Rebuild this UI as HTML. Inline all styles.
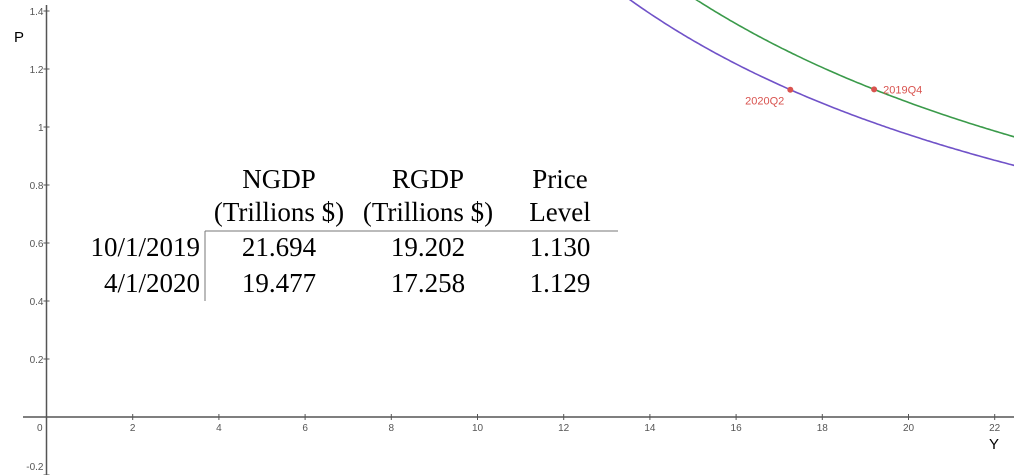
<!DOCTYPE html>
<html><head><meta charset="utf-8"><style>
body{margin:0;background:#fff;}
svg{display:block;}
.tk{font:10px "Liberation Sans",sans-serif;fill:#555;}
.tb{font:27px "Liberation Serif",serif;fill:#000;}
.pl{font:11px "Liberation Sans",sans-serif;fill:#d9534f;}
</style></head><body>
<svg id="c" width="1022" height="475" xmlns="http://www.w3.org/2000/svg">
<defs><clipPath id="cp"><rect x="0" y="0" width="1014" height="475"/></clipPath></defs>
<g id="axes"></g><g id="curves" clip-path="url(#cp)"></g><g id="pts"></g>
<g>
<line x1="205" y1="231" x2="618" y2="231" stroke="#777" stroke-width="1"/>
<line x1="205" y1="231" x2="205" y2="301" stroke="#777" stroke-width="1"/>
<text class="tb" x="279" y="188" text-anchor="middle">NGDP</text>
<text class="tb" x="279" y="221" text-anchor="middle">(Trillions $)</text>
<text class="tb" x="428" y="188" text-anchor="middle">RGDP</text>
<text class="tb" x="428" y="221" text-anchor="middle">(Trillions $)</text>
<text class="tb" x="560" y="188" text-anchor="middle">Price</text>
<text class="tb" x="560" y="221" text-anchor="middle">Level</text>
<text class="tb" x="200" y="256" text-anchor="end">10/1/2019</text>
<text class="tb" x="200" y="292" text-anchor="end">4/1/2020</text>
<text class="tb" x="279" y="256" text-anchor="middle">21.694</text>
<text class="tb" x="279" y="292" text-anchor="middle">19.477</text>
<text class="tb" x="428" y="256" text-anchor="middle">19.202</text>
<text class="tb" x="428" y="292" text-anchor="middle">17.258</text>
<text class="tb" x="560" y="256" text-anchor="middle">1.130</text>
<text class="tb" x="560" y="292" text-anchor="middle">1.129</text>
</g>
</svg>
<script>
const xTicks=[2,4,6,8,10,12,14,16,18,20,22];
const yTicks=[-0.2,0.2,0.4,0.6,0.8,1,1.2,1.4];
const ngdp=[21.694,19.477];
const rgdp=[19.202,17.258];
const pointLabels=["2019Q4","2020Q2"];
const colors=["#3a9a4a","#7052c8"];
const NS="http://www.w3.org/2000/svg";
const X=v=>46.5+v*43.1, Y=v=>417-v*290;
function mk(t,a,p){const e=document.createElementNS(NS,t);for(const k in a)e.setAttribute(k,a[k]);p.appendChild(e);return e;}
const ax=document.getElementById('axes');
let l=mk('line',{x1:23,y1:Y(0),x2:1014,y2:Y(0),stroke:'#555','stroke-width':1.5},ax);


l=mk('line',{x1:X(0),y1:5,x2:X(0),y2:475,stroke:'#555','stroke-width':1.5},ax);


let t=mk('text',{x:37,y:431,class:'tk'},ax);t.textContent='0';
xTicks.forEach(v=>{mk('line',{x1:X(v),y1:Y(0)-3,x2:X(v),y2:Y(0)+3,stroke:'#555'},ax);
const e=mk('text',{x:X(v),y:431,class:'tk','text-anchor':'middle'},ax);e.textContent=v;

});
yTicks.forEach(v=>{mk('line',{x1:X(0)-3,y1:Y(v),x2:X(0)+3,y2:Y(v),stroke:'#555'},ax);
const e=mk('text',{x:X(0)-3,y:Math.min(Y(v)+4,470),class:'tk','text-anchor':'end'},ax);e.textContent=v;

});
t=mk('text',{x:14,y:42,style:'font:15px "Liberation Sans",sans-serif'},ax);t.textContent='P';


t=mk('text',{x:989,y:449,style:'font:15px "Liberation Sans",sans-serif'},ax);t.textContent='Y';


const cv=document.getElementById('curves'),pg=document.getElementById('pts');
ngdp.forEach((n,i)=>{let d='';for(let y=n/1.45;y<=23.5;y+=0.05){d+=(d?'L':'M')+X(y).toFixed(1)+','+Y(n/y).toFixed(1);}
const p=mk('path',{d:d,fill:'none',stroke:colors[i],'stroke-width':1.6},cv);


const px=X(rgdp[i]),py=Y(n/rgdp[i]);
const c=mk('circle',{cx:px,cy:py,r:3,fill:'#d9534f'},pg);


const tx=mk('text',{x:i==0?px+9:px-6,y:i==0?py+4:py+15,class:'pl','text-anchor':i==0?'start':'end'},pg);tx.textContent=pointLabels[i];

});
</script>
</body></html>
